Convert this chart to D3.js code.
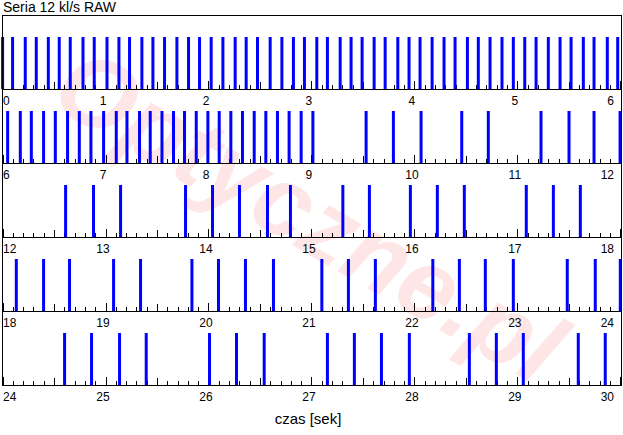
<!DOCTYPE html>
<html>
<head>
<meta charset="utf-8">
<script src="https://cdn.jsdelivr.net/npm/d3@7"></script>
<style>
  html, body { margin: 0; padding: 0; background: #fff; }
  svg { display: block; }
  text { font-family: "Liberation Sans", Arial, sans-serif; }
</style>
</head>
<body>
<svg id="chart" width="623" height="435"></svg>
<script>
// ---- data (seconds) ----
const title = "Seria 12 kl/s RAW";
const xTitle = "czas [sek]";
const rowStarts = [0, 6, 12, 18, 24];
const row0Frames = [0.0, 0.097, 0.220, 0.327, 0.444, 0.550, 0.657, 0.781, 0.890, 1.014, 1.130, 1.233, 1.353, 1.460, 1.573, 1.693, 1.806, 1.913, 2.026, 2.140, 2.259, 2.366, 2.476, 2.599, 2.713, 2.825, 2.932, 3.052, 3.155, 3.279, 3.385, 3.492, 3.609, 3.716, 3.839, 3.948, 4.055, 4.172, 4.288, 4.395, 4.515, 4.621, 4.735, 4.851, 4.961, 5.072, 5.182, 5.301, 5.415, 5.522, 5.641, 5.745, 5.874, 5.975];
const row1Frames = [6.049, 6.172, 6.279, 6.398, 6.512, 6.631, 6.745, 6.858, 6.981, 7.104, 7.208, 7.330, 7.434, 7.548, 7.660, 7.767, 7.881, 7.994, 8.104, 8.217, 8.330, 8.444, 8.557, 8.670, 8.783, 8.900, 9.014, 9.531, 9.796, 10.065, 10.460, 10.718, 11.230, 11.502, 11.745, 11.998];
const row2Frames = [12.612, 12.883, 13.146, 13.777, 14.039, 14.301, 14.573, 14.796, 15.305, 15.563, 15.961, 16.223, 16.485, 17.087, 17.350, 17.612];
const row3Frames = [18.133, 18.398, 18.650, 19.078, 19.340, 19.839, 20.097, 20.359, 20.631, 21.101, 21.359, 21.621, 22.179, 22.437, 22.689, 22.961, 23.485, 23.757, 24.000];
const row4Frames = [24.602, 24.864, 25.136, 25.395, 26.010, 26.272, 26.541, 27.155, 27.417, 27.680, 27.951, 28.534, 28.796, 29.058, 29.592, 29.854];
const rowFrames = [row0Frames, row1Frames, row2Frames, row3Frames, row4Frames];

// ---- layout ----
const plotLeft = 2, plotRight = 621, plotTop = 15, rowH = 74;
const barH = 52, barW = 3;

const svg = d3.select("#chart");

// watermark
svg.append("text")
  .attr("x", 310).attr("y", 250)
  .attr("text-anchor", "middle")
  .attr("transform", "rotate(30,310,215)")
  .style("font-size", "100px")
  .style("font-weight", "bold")
  .style("font-style", "italic")
  .attr("fill", "rgb(255,60,60)")
  .attr("opacity", 0.12)
  .text("Optyczne.pl");

rowStarts.forEach((start, r) => {
  const axisY = plotTop + rowH * (r + 1);
  const x = d3.scaleLinear().domain([start - 0.003, start + 6.007]).range([plotLeft + 0.3, plotRight]);
  const g = svg.append("g");

  // minor / major ticks every 0.1 s, pointing up
  const tickVals = d3.range(0, 61).map(i => ({ t: start + i / 10, i }));
  g.selectAll("line.tick").data(tickVals).join("line")
    .attr("x1", d => Math.round(x(d.t)) + 0.5)
    .attr("x2", d => Math.round(x(d.t)) + 0.5)
    .attr("y1", axisY)
    .attr("y2", d => axisY - (d.i % 10 === 0 ? 8 : d.i % 5 === 0 ? 7 : 4))
    .attr("stroke", "#000").attr("stroke-width", 1);

  // frame bars
  g.selectAll("rect.bar").data(rowFrames[r]).join("rect")
    .attr("x", d => x(d) - barW / 2)
    .attr("y", axisY - barH)
    .attr("width", barW)
    .attr("height", barH)
    .attr("fill", "#0000ff");

  // axis line
  g.append("line")
    .attr("x1", plotLeft).attr("x2", plotRight + 1)
    .attr("y1", axisY + 0.5).attr("y2", axisY + 0.5)
    .attr("stroke", "#000");

  // labels
  const labels = d3.range(start, start + 7);
  g.selectAll("text.lab").data(labels).join("text")
    .attr("x", (d, i) => i === 0 ? 3 : i === 6 ? 614 : x(d) - 2.5)
    .attr("y", axisY + 16)
    .attr("text-anchor", (d, i) => i === 0 ? "start" : i === 6 ? "end" : "middle")
    .style("font-size", "12px")
    .attr("fill", "#000")
    .text(d => d);
});

// frame border
svg.append("rect")
  .attr("x", plotLeft + 0.5).attr("y", plotTop + 0.5)
  .attr("width", plotRight - plotLeft).attr("height", rowH * 5)
  .attr("fill", "none").attr("stroke", "#000");

// title
svg.append("text").attr("x", 3).attr("y", 12)
  .style("font-size", "14px").attr("fill", "#000").text(title);

// x title
svg.append("text").attr("x", 308).attr("y", 424)
  .attr("text-anchor", "middle")
  .style("font-size", "15px").attr("fill", "#000").text(xTitle);
</script>
</body>
</html>
